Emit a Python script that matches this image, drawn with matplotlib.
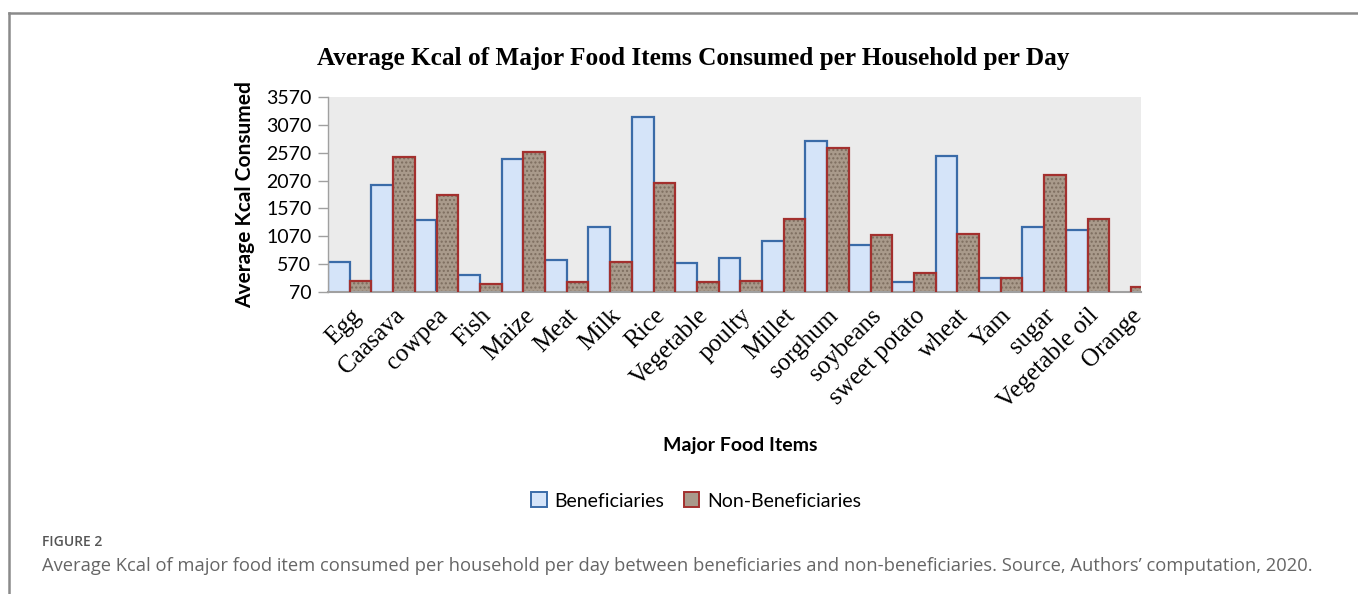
import matplotlib
matplotlib.use("Agg")
import matplotlib.pyplot as plt
from matplotlib.patches import Patch
from matplotlib.lines import Line2D
import numpy as np

categories = ["Egg", "Caasava", "cowpea", "Fish", "Maize", "Meat", "Milk", "Rice",
              "Vegetable", "poulty", "Millet", "sorghum", "soybeans", "sweet potato",
              "wheat", "Yam", "sugar", "Vegetable oil", "Orange"]
beneficiaries = [611, 1996, 1370, 384, 2453, 642, 1243, 3205, 593, 684, 985, 2778,
                 918, 245, 2507, 323, 1243, 1189, 0]
non_beneficiaries = [263, 2489, 1810, 221, 2586, 245, 606, 2032, 245, 269, 1382, 2658,
                     1088, 407, 1111, 323, 2171, 1388, 165]
yticks = [70, 570, 1070, 1570, 2070, 2570, 3070, 3570]

W, H = 1358, 594
fig = plt.figure(figsize=(W / 100, H / 100), dpi=100)
fig.patch.set_facecolor("white")

ax = fig.add_axes([328 / W, 1 - 292 / H, (1141 - 328) / W, (292 - 97) / H])
ax.set_facecolor("#EBEBEB")

x = np.arange(len(categories))
bw = 0.5
b_face, b_edge = "#D5E4F9", "#3A6BA8"
n_face, n_hatch, n_edge = "#A99A8B", "#7D6D5F", "#A3302E"

ax.bar(x - bw / 2, beneficiaries, width=bw, color=b_face, edgecolor=b_edge,
       linewidth=1.6, zorder=2)
ax.bar(x + bw / 2, non_beneficiaries, width=bw, color=n_face, edgecolor=n_hatch,
       linewidth=0, hatch="....", zorder=2)
ax.bar(x + bw / 2, non_beneficiaries, width=bw, color="none", edgecolor=n_edge,
       linewidth=1.6, zorder=3)

ax.set_ylim(70, 3570)
ax.set_xlim(-0.5, -0.5 + (1141 - 328) / 43.4)
ax.set_yticks(yticks)
ax.set_yticklabels([str(v) for v in yticks], fontfamily="Lato", fontsize=14)
ax.tick_params(axis="y", length=7, width=1, color="#A0A0A0", pad=5)
ax.set_xticks(x)
ax.set_xticklabels(categories, rotation=45, ha="right", va="top",
                   rotation_mode="anchor", fontfamily="Liberation Serif",
                   fontsize=18)
ax.tick_params(axis="x", length=0, pad=9)
for s in ("top", "right"):
    ax.spines[s].set_visible(False)
ax.spines["left"].set_color("#A0A0A0")
ax.spines["bottom"].set_color("#A0A0A0")
ax.spines["bottom"].set_linewidth(1.5)
ax.spines["left"].set_linewidth(1.0)

ax.set_ylabel("Average Kcal Consumed", fontfamily="Lato", fontweight="bold",
              fontsize=15, labelpad=8)

fig.text(693 / W, 1 - 58 / H,
         "Average Kcal of Major Food Items Consumed per Household per Day",
         ha="center", va="center", fontfamily="Liberation Serif",
         fontweight="bold", fontsize=18.2)

fig.text(740 / W, 1 - 445 / H, "Major Food Items", ha="center", va="center",
         fontfamily="Lato", fontweight="bold", fontsize=14)

handles = [Patch(facecolor=b_face, edgecolor=b_edge, linewidth=1.4),
           Patch(facecolor=n_face, edgecolor=n_edge, linewidth=1.4)]
leg = fig.legend(handles, ["Beneficiaries", "Non-Beneficiaries"],
                 loc="center", bbox_to_anchor=(696 / W, 1 - 501 / H), ncol=2,
                 frameon=False, handlelength=0.8, handleheight=0.8,
                 handletextpad=0.4, columnspacing=1.0,
                 prop={"family": "Lato", "size": 14})

fig.text(42 / W, 1 - 542 / H, "FIGURE 2", ha="left", va="center",
         fontfamily="Open Sans", fontweight="semibold", fontsize=10,
         color="#555555")
fig.text(42 / W, 1 - 566 / H,
         "Average Kcal of major food item consumed per household per day between "
         "beneficiaries and non-beneficiaries. Source, Authors\u2019 computation, 2020.",
         ha="left", va="center", fontfamily="Open Sans", fontsize=13.2,
         color="#666666")

# card border (left and top)
fig.add_artist(Line2D([9 / W, 9 / W], [0, 1 - 13 / H], transform=fig.transFigure,
                      color="#8A8A8A", linewidth=1.8))
fig.add_artist(Line2D([9 / W, 1], [1 - 13 / H, 1 - 13 / H], transform=fig.transFigure,
                      color="#8A8A8A", linewidth=1.8))

fig.savefig("out.png", dpi=100, facecolor="white")
